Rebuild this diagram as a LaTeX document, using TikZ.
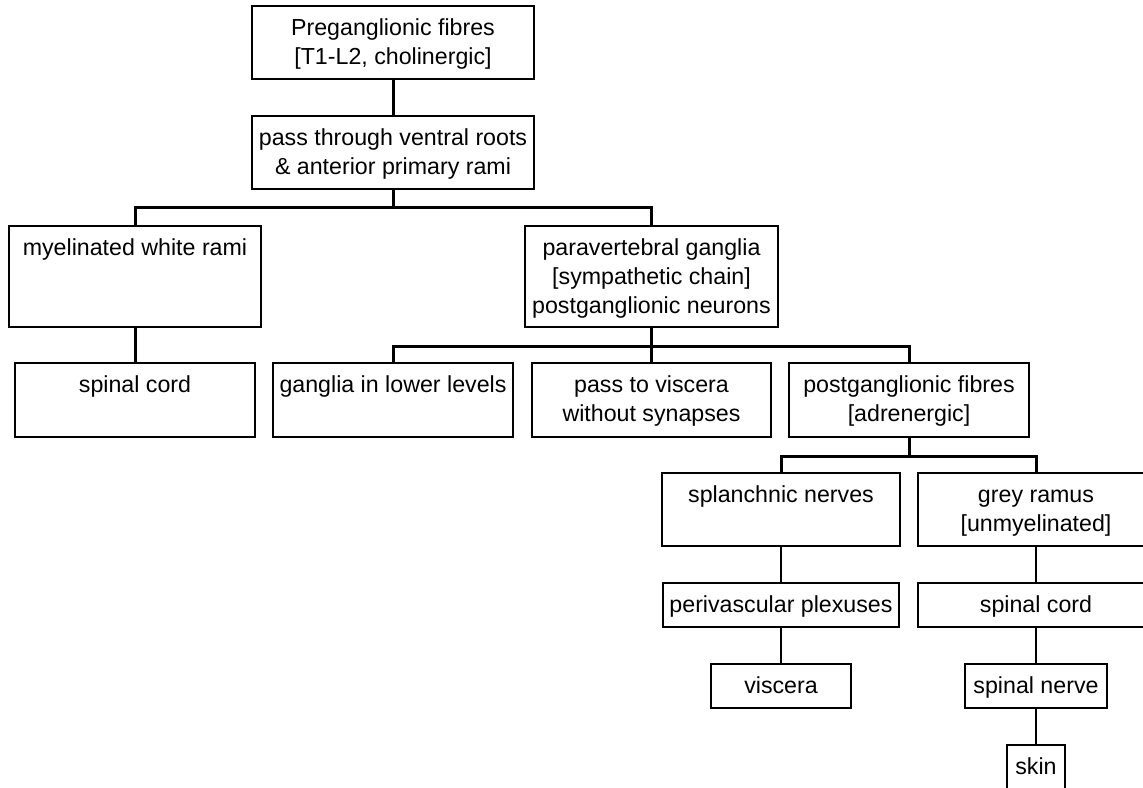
\documentclass[tikz,border=0pt]{standalone}
\usepackage{fontspec}
\setmainfont{Liberation Sans}

% Box contents: fixed width and height, lines centred and hung from the top edge
\newcommand\boxlines[3]{\vbox to #2{\hsize=#1\relax\parindent=0pt\parskip=0pt\centering\rule{0pt}{29pt}#3\par\vfil}}

\tikzset{
  box/.style={draw=black, line width=1.2pt, inner sep=0pt, outer sep=0pt,
    anchor=north west, font=\fontsize{23.2}{29}\selectfont},
  conn/.style={draw=black, line width=3pt},
  connmid/.style={draw=black, line width=2.6pt},
  connthin/.style={draw=black, line width=1.9pt}
}

\begin{document}
\begin{tikzpicture}[x=1pt, y=-1pt]
  \useasboundingbox (0,0) rectangle (1143,787);
  \fill[white] (0,0) rectangle (1143,787);

  % top of the pathway
  \node[box] (pre)  at (252,6)   {\boxlines{282pt}{73pt}{Preganglionic fibres\par[T1-L2, cholinergic]}};
  \node[box] (pass) at (252,116) {\boxlines{282pt}{73pt}{pass through ventral roots\par\& anterior primary rami}};

  % first split
  \node[box] (white) at (9,226)   {\boxlines{252pt}{101pt}{myelinated white rami}};
  \node[box] (para)  at (525,226) {\boxlines{253pt}{101pt}{paravertebral ganglia\par[sympathetic chain]\par postganglionic neurons}};

  \node[box] (cordA) at (15,363)  {\boxlines{240pt}{74pt}{spinal cord}};

  % second split
  \node[box] (lower) at (273,363) {\boxlines{240pt}{74pt}{ganglia in lower levels}};
  \node[box] (nosyn) at (532,363) {\boxlines{239pt}{74pt}{pass to viscera\par without synapses}};
  \node[box] (post)  at (789,363) {\boxlines{240pt}{74pt}{postganglionic fibres\par[adrenergic]}};

  % third split
  \node[box] (splan) at (662,473) {\boxlines{238pt}{73pt}{splanchnic nerves}};
  \node[box] (grey)  at (918,473) {\boxlines{236pt}{73pt}{grey ramus\par[unmyelinated]}};

  \node[box] (perivasc) at (663,583) {\boxlines{236pt}{44pt}{perivascular plexuses}};
  \node[box] (viscera)  at (711,664) {\boxlines{140pt}{44pt}{viscera}};

  \node[box] (cordB)  at (918,583)  {\boxlines{236pt}{44pt}{spinal cord}};
  \node[box] (snerve) at (965,664)  {\boxlines{142pt}{44pt}{spinal nerve}};
  \node[box] (skin)   at (1007,745) {\boxlines{58pt}{44pt}{skin}};

  % branch points
  \coordinate (busA) at (393,207);
  \coordinate (busB) at (651.5,346);
  \coordinate (busC) at (909,456);

  % connectors
  \draw[conn] (pre.south) -- (pass.north);
  \draw[conn] (pass.south) -- (busA);
  \draw[conn] (white.north) |- (busA) -| (para.north);
  \draw[conn] (white.south) -- (cordA.north);

  \draw[conn] (para.south) -- (busB);
  \draw[conn] (lower.north) |- (busB) -| (post.north);
  \draw[conn] (busB) -- (nosyn.north);

  \draw[conn] (post.south) -- (busC);
  \draw[conn] (splan.north) |- (busC) -| (grey.north);

  \draw[connmid] (splan.south) -- (perivasc.north);
  \draw[connmid] (perivasc.south) -- (viscera.north);

  \draw[connthin] (grey.south) -- (cordB.north);
  \draw[connthin] (cordB.south) -- (snerve.north);
  \draw[connthin] (snerve.south) -- (skin.north);
\end{tikzpicture}
\end{document}
